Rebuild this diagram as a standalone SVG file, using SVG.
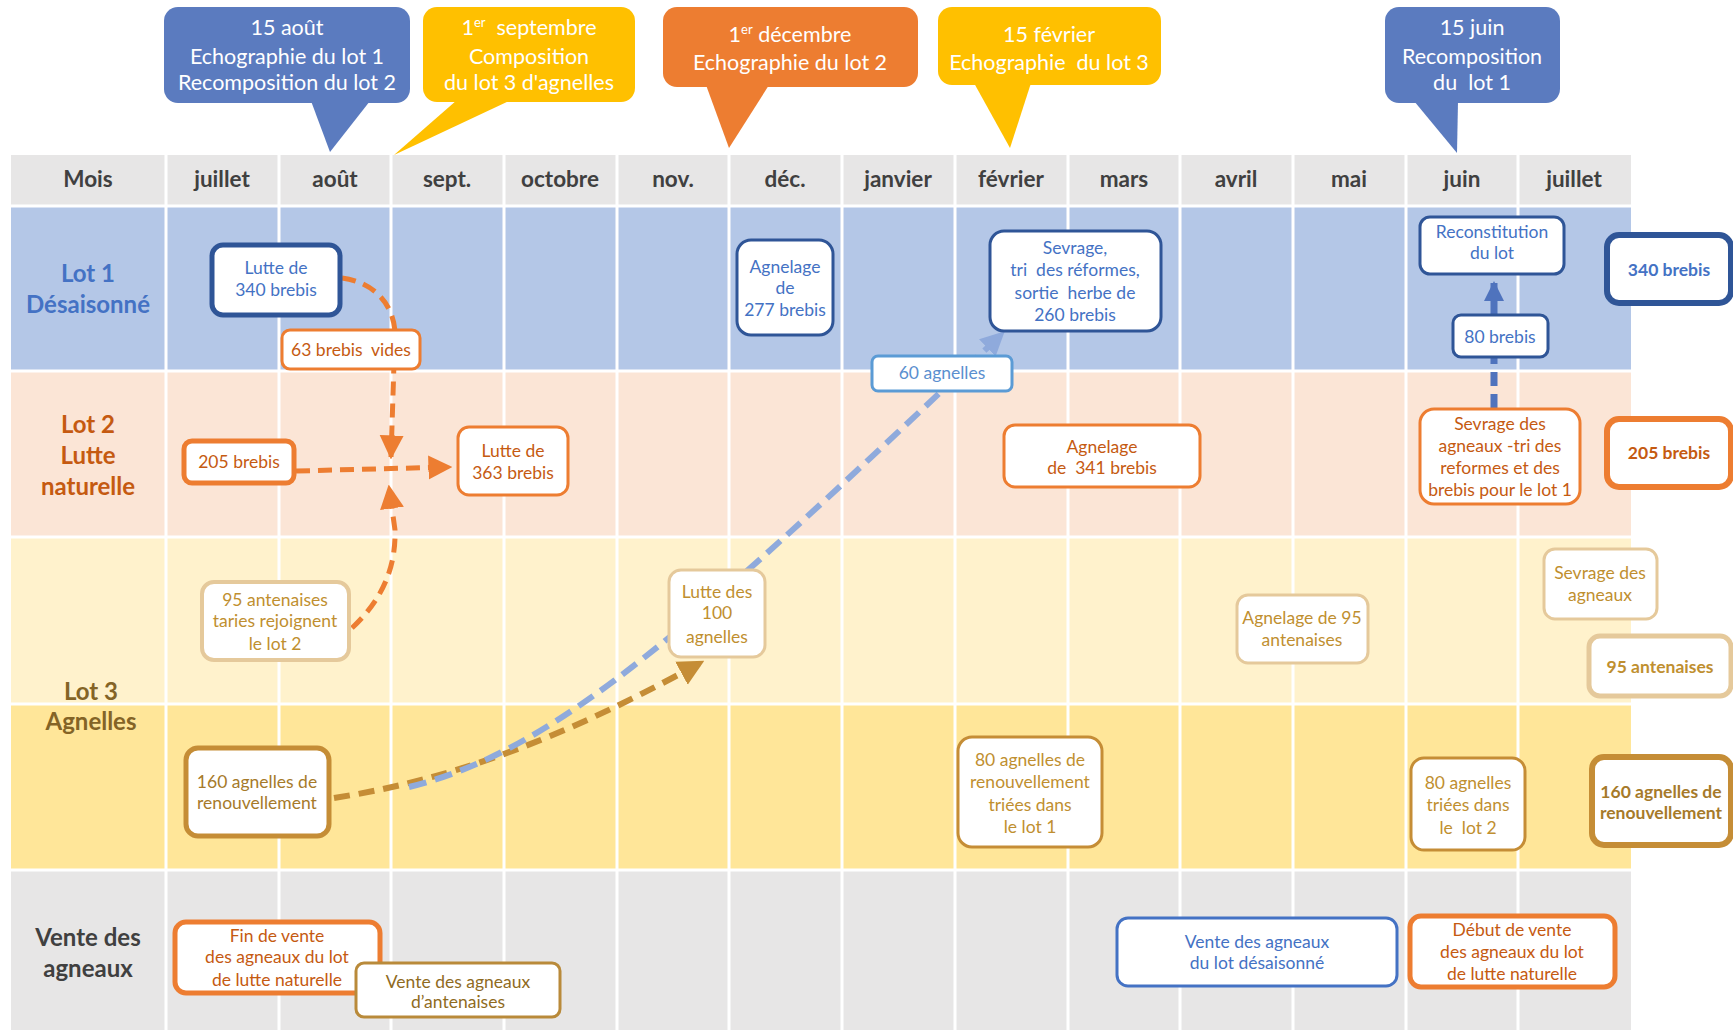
<svg xmlns="http://www.w3.org/2000/svg" width="1733" height="1030" viewBox="0 0 1733 1030">
<style>
text{font-family:"Lato","Open Sans",sans-serif;text-anchor:middle}
.hdr{font-size:22.5px;font-weight:bold;fill:#404040}
.lbl{font-size:24px;font-weight:bold}
.co{font-size:21.5px;fill:#ffffff}
.t{font-size:17.5px}
.b{font-weight:bold}
.grid{stroke:#ffffff;stroke-width:3}
.bx{fill:#ffffff}
.dk{stroke:#2F5597}
.dkt{fill:#4472C4}
.or{stroke:#ED7D31}
.ort{fill:#C55A11}
.pl{stroke:#E5C99B}
.plt{fill:#BF8F30}
.gd{stroke:#C58D36}
.gdt{fill:#A67A2A}
.con{fill:none}
</style>
<defs>
<marker id="aOr" viewBox="0 0 10 10" refX="9" refY="5" markerWidth="24" markerHeight="32" markerUnits="userSpaceOnUse" orient="auto"><path d="M0,0 L10,5 L0,10 z" fill="#ED7D31"/></marker>
<marker id="aBl" viewBox="0 0 10 10" refX="9" refY="5" markerWidth="24" markerHeight="32" markerUnits="userSpaceOnUse" orient="auto"><path d="M0,0 L10,5 L0,10 z" fill="#8FAADC"/></marker>
<marker id="aGd" viewBox="0 0 10 10" refX="9" refY="5" markerWidth="26" markerHeight="34" markerUnits="userSpaceOnUse" orient="auto"><path d="M0,0 L10,5 L0,10 z" fill="#C58D36"/></marker>
<marker id="aDb" viewBox="0 0 10 10" refX="9" refY="5" markerWidth="20" markerHeight="34" markerUnits="userSpaceOnUse" orient="auto"><path d="M0,0 L10,5 L0,10 z" fill="#4F73BD"/></marker>
</defs>
<rect width="1733" height="1030" fill="#ffffff"/>
<g id="table">
<rect x="11" y="155" width="1620" height="51" fill="#E7E6E6"/>
<rect x="11" y="206" width="1620" height="165" fill="#B4C7E7"/>
<rect x="11" y="371" width="1620" height="166" fill="#FBE5D6"/>
<rect x="11" y="537" width="1620" height="167" fill="#FFF2CC"/>
<rect x="11" y="704" width="1620" height="166" fill="#FFE699"/>
<rect x="11" y="870" width="1620" height="160" fill="#E7E6E6"/>
<g class="grid">
<line x1="166" y1="155" x2="166" y2="1030"/><line x1="279" y1="155" x2="279" y2="1030"/><line x1="391" y1="155" x2="391" y2="1030"/><line x1="504" y1="155" x2="504" y2="1030"/><line x1="617" y1="155" x2="617" y2="1030"/><line x1="729" y1="155" x2="729" y2="1030"/><line x1="842" y1="155" x2="842" y2="1030"/><line x1="955" y1="155" x2="955" y2="1030"/><line x1="1068" y1="155" x2="1068" y2="1030"/><line x1="1180" y1="155" x2="1180" y2="1030"/><line x1="1293" y1="155" x2="1293" y2="1030"/><line x1="1406" y1="155" x2="1406" y2="1030"/><line x1="1518" y1="155" x2="1518" y2="1030"/>
<line x1="11" y1="206" x2="1631" y2="206"/><line x1="11" y1="371" x2="1631" y2="371"/><line x1="11" y1="537" x2="1631" y2="537"/><line x1="11" y1="704" x2="1631" y2="704"/><line x1="11" y1="870" x2="1631" y2="870"/>
</g>
<g class="hdr">
<text x="88" y="187">Mois</text><text x="222" y="187">juillet</text><text x="335" y="187">août</text><text x="447" y="187">sept.</text><text x="560" y="187">octobre</text><text x="673" y="187">nov.</text><text x="785" y="187">déc.</text><text x="898" y="187">janvier</text><text x="1011" y="187">février</text><text x="1124" y="187">mars</text><text x="1236" y="187">avril</text><text x="1349" y="187">mai</text><text x="1462" y="187">juin</text><text x="1574" y="187">juillet</text>
</g>
<text class="lbl" fill="#4472C4" x="88" y="282">Lot 1</text><text class="lbl" fill="#4472C4" x="88" y="313">Désaisonné</text>
<text class="lbl" fill="#C55A11" x="88" y="433">Lot 2</text><text class="lbl" fill="#C55A11" x="88" y="464">Lutte</text><text class="lbl" fill="#C55A11" x="88" y="495">naturelle</text>
<text class="lbl" fill="#846426" x="91" y="700">Lot 3</text><text class="lbl" fill="#846426" x="91" y="730">Agnelles</text>
<text class="lbl" fill="#404040" x="88" y="946">Vente des</text><text class="lbl" fill="#404040" x="88" y="977">agneaux</text>
</g>
<g id="callout-aout">
<rect x="164" y="7" width="246" height="96" rx="14" fill="#5B7BBF"/><polygon points="311,101 370,101 330,152" fill="#5B7BBF"/>
<text class="co" x="287" y="35">15 août</text><text class="co" x="287" y="64">Echographie du lot 1</text><text class="co" x="287" y="90">Recomposition du lot 2</text>
</g>
<g id="callout-sept">
<rect x="423" y="7" width="212" height="95" rx="14" fill="#FFC000"/><polygon points="457,100 511,100 394,155" fill="#FFC000"/>
<text class="co" x="529" y="35">1<tspan font-size="13" dy="-8">er</tspan><tspan dy="8">&#160; septembre</tspan></text><text class="co" x="529" y="64">Composition</text><text class="co" x="529" y="90">du lot 3 d'agnelles</text>
</g>
<g id="callout-dec">
<rect x="663" y="7" width="255" height="80" rx="14" fill="#ED7D31"/><polygon points="706,85 769,85 729,148" fill="#ED7D31"/>
<text class="co" x="790" y="42">1<tspan font-size="13" dy="-8">er</tspan><tspan dy="8"> décembre</tspan></text><text class="co" x="790" y="70">Echographie du lot 2</text>
</g>
<g id="callout-fev">
<rect x="938" y="7" width="223" height="78" rx="14" fill="#FFC000"/><polygon points="974,83 1031,83 1010,148" fill="#FFC000"/>
<text class="co" x="1049" y="42">15 février</text><text class="co" x="1049" y="70">Echographie&#160; du lot 3</text>
</g>
<g id="callout-juin">
<rect x="1385" y="7" width="175" height="96" rx="14" fill="#5B7BBF"/><polygon points="1414,101 1458,101 1457,153" fill="#5B7BBF"/>
<text class="co" x="1472" y="35">15 juin</text><text class="co" x="1472" y="64">Recomposition</text><text class="co" x="1472" y="90">du&#160; lot 1</text>
</g>
<g id="connectors" class="con">
<path d="M342,278 C372,282 393,302 395,332 L391,457" stroke="#ED7D31" stroke-width="5" stroke-dasharray="14 8" marker-end="url(#aOr)"/>
<path d="M296,471 L450,467" stroke="#ED7D31" stroke-width="5" stroke-dasharray="14 8" marker-end="url(#aOr)"/>
<path d="M352,628 C382,600 396,568 395,530 L389,487" stroke="#ED7D31" stroke-width="5" stroke-dasharray="14 8" marker-end="url(#aOr)"/>
<path d="M334,798 C450,780 560,740 702,662" stroke="#C58D36" stroke-width="6" stroke-dasharray="16 9" marker-end="url(#aGd)"/>
<path d="M409,787 C560,750 700,620 1003,333" stroke="#8FAADC" stroke-width="6" stroke-dasharray="18 9" marker-end="url(#aBl)"/>
<path d="M1494,408 L1494,358" stroke="#4F73BD" stroke-width="7" stroke-dasharray="14 8"/>
<path d="M1494,316 L1494,283" stroke="#4F73BD" stroke-width="7" marker-end="url(#aDb)"/>
</g>
<g id="n-lutte340"><rect class="bx dk" x="212" y="245" width="128" height="70" rx="11" stroke-width="5"/><text class="t dkt" x="276" y="274">Lutte de</text><text class="t dkt" x="276" y="296">340 brebis</text></g>
<g id="n-63vides"><rect class="bx or" x="282" y="330" width="138" height="39" rx="8" stroke-width="3"/><text class="t ort" x="351" y="356">63 brebis&#160; vides</text></g>
<g id="n-205left"><rect class="bx or" x="184" y="441" width="110" height="42" rx="8" stroke-width="5"/><text class="t ort" x="239" y="468">205 brebis</text></g>
<g id="n-lutte363"><rect class="bx or" x="458" y="427" width="110" height="68" rx="11" stroke-width="3"/><text class="t ort" x="513" y="457">Lutte de</text><text class="t ort" x="513" y="479">363 brebis</text></g>
<g id="n-agnelage277"><rect class="bx dk" x="737" y="240" width="96" height="95" rx="14" stroke-width="3"/><text class="t dkt" x="785" y="273">Agnelage</text><text class="t dkt" x="785" y="294">de</text><text class="t dkt" x="785" y="316">277 brebis</text></g>
<g id="n-sevrage260"><rect class="bx dk" x="990" y="231" width="171" height="100" rx="14" stroke-width="3"/><text class="t dkt" x="1075" y="254">Sevrage,</text><text class="t dkt" x="1075" y="276">tri&#160; des réformes,</text><text class="t dkt" x="1075" y="299">sortie&#160; herbe de</text><text class="t dkt" x="1075" y="321">260 brebis</text></g>
<g id="n-60agnelles"><rect class="bx" x="872" y="356" width="140" height="35" rx="6" stroke="#5B9BD5" stroke-width="3"/><text class="t" fill="#5B8FCF" x="942" y="379">60 agnelles</text></g>
<g id="n-agnelage341"><rect class="bx or" x="1004" y="425" width="196" height="62" rx="11" stroke-width="3"/><text class="t ort" x="1102" y="453">Agnelage</text><text class="t ort" x="1102" y="474">de&#160; 341 brebis</text></g>
<g id="n-reconst"><rect class="bx dk" x="1420" y="217" width="144" height="57" rx="10" stroke-width="3"/><text class="t dkt" x="1492" y="238">Reconstitution</text><text class="t dkt" x="1492" y="259">du lot</text></g>
<g id="n-80brebis"><rect class="bx dk" x="1453" y="315" width="95" height="42" rx="8" stroke-width="3"/><text class="t dkt" x="1500" y="343">80 brebis</text></g>
<g id="n-340right"><rect class="bx dk" x="1607" y="235" width="124" height="68" rx="12" stroke-width="6"/><text class="t dkt b" x="1669" y="276">340 brebis</text></g>
<g id="n-sevrage-lot2"><rect class="bx or" x="1420" y="409" width="160" height="95" rx="14" stroke-width="3"/><text class="t ort" x="1500" y="430">Sevrage des</text><text class="t ort" x="1500" y="452">agneaux -tri des</text><text class="t ort" x="1500" y="474">reformes et des</text><text class="t ort" x="1500" y="496">brebis pour le lot 1</text></g>
<g id="n-205right"><rect class="bx or" x="1607" y="419" width="124" height="68" rx="12" stroke-width="6"/><text class="t ort b" x="1669" y="459">205 brebis</text></g>
<g id="n-95taries"><rect class="bx pl" x="202" y="582" width="147" height="78" rx="12" stroke-width="4"/><text class="t plt" x="275" y="606">95 antenaises</text><text class="t plt" x="275" y="627">taries rejoignent</text><text class="t plt" x="275" y="650">le lot 2</text></g>
<g id="n-lutte100"><rect class="bx pl" x="669" y="570" width="96" height="87" rx="12" stroke-width="3"/><text class="t plt" x="717" y="598">Lutte des</text><text class="t plt" x="717" y="619">100</text><text class="t plt" x="717" y="643">agnelles</text></g>
<g id="n-agnelage95"><rect class="bx pl" x="1237" y="595" width="131" height="68" rx="11" stroke-width="3"/><text class="t plt" x="1302" y="624">Agnelage de 95</text><text class="t plt" x="1302" y="646">antenaises</text></g>
<g id="n-sevrage-lot3"><rect class="bx pl" x="1544" y="549" width="113" height="70" rx="11" stroke-width="3"/><text class="t plt" x="1600" y="579">Sevrage des</text><text class="t plt" x="1600" y="601">agneaux</text></g>
<g id="n-95right"><rect class="bx pl" x="1589" y="636" width="142" height="60" rx="11" stroke-width="5"/><text class="t plt b" x="1660" y="673">95 antenaises</text></g>
<g id="n-160left"><rect class="bx gd" x="186" y="748" width="143" height="88" rx="12" stroke-width="5"/><text class="t gdt" x="257" y="788">160 agnelles de</text><text class="t gdt" x="257" y="809">renouvellement</text></g>
<g id="n-80lot1"><rect class="bx gd" x="958" y="737" width="144" height="110" rx="14" stroke-width="3"/><text class="t plt" x="1030" y="766">80 agnelles de</text><text class="t plt" x="1030" y="788">renouvellement</text><text class="t plt" x="1030" y="811">triées dans</text><text class="t plt" x="1030" y="833">le lot 1</text></g>
<g id="n-80lot2"><rect class="bx gd" x="1411" y="758" width="114" height="92" rx="13" stroke-width="3"/><text class="t plt" x="1468" y="789">80 agnelles</text><text class="t plt" x="1468" y="811">triées dans</text><text class="t plt" x="1468" y="834">le&#160; lot 2</text></g>
<g id="n-160right"><rect class="bx gd" x="1592" y="757" width="139" height="88" rx="12" stroke-width="6"/><text class="t gdt b" x="1661" y="798">160 agnelles de</text><text class="t gdt b" x="1661" y="819">renouvellement</text></g>
<g id="n-finvente"><rect class="bx or" x="175" y="922" width="205" height="71" rx="11" stroke-width="5"/><text class="t ort" x="277" y="942">Fin de vente</text><text class="t ort" x="277" y="963">des agneaux du lot</text><text class="t ort" x="277" y="986">de lutte naturelle</text></g>
<g id="n-vente-antenaises"><rect class="bx" x="356" y="963" width="204" height="54" rx="8" stroke="#B98A3A" stroke-width="3"/><text class="t" fill="#8F6B1E" x="458" y="988">Vente des agneaux</text><text class="t" fill="#8F6B1E" x="458" y="1008">d’antenaises</text></g>
<g id="n-vente-desais"><rect class="bx" x="1117" y="918" width="280" height="68" rx="11" stroke="#4472C4" stroke-width="3"/><text class="t dkt" x="1257" y="948">Vente des agneaux</text><text class="t dkt" x="1257" y="969">du lot désaisonné</text></g>
<g id="n-debutvente"><rect class="bx or" x="1410" y="916" width="205" height="71" rx="11" stroke-width="5"/><text class="t ort" x="1512" y="936">Début de vente</text><text class="t ort" x="1512" y="958">des agneaux du lot</text><text class="t ort" x="1512" y="980">de lutte naturelle</text></g>
</svg>
